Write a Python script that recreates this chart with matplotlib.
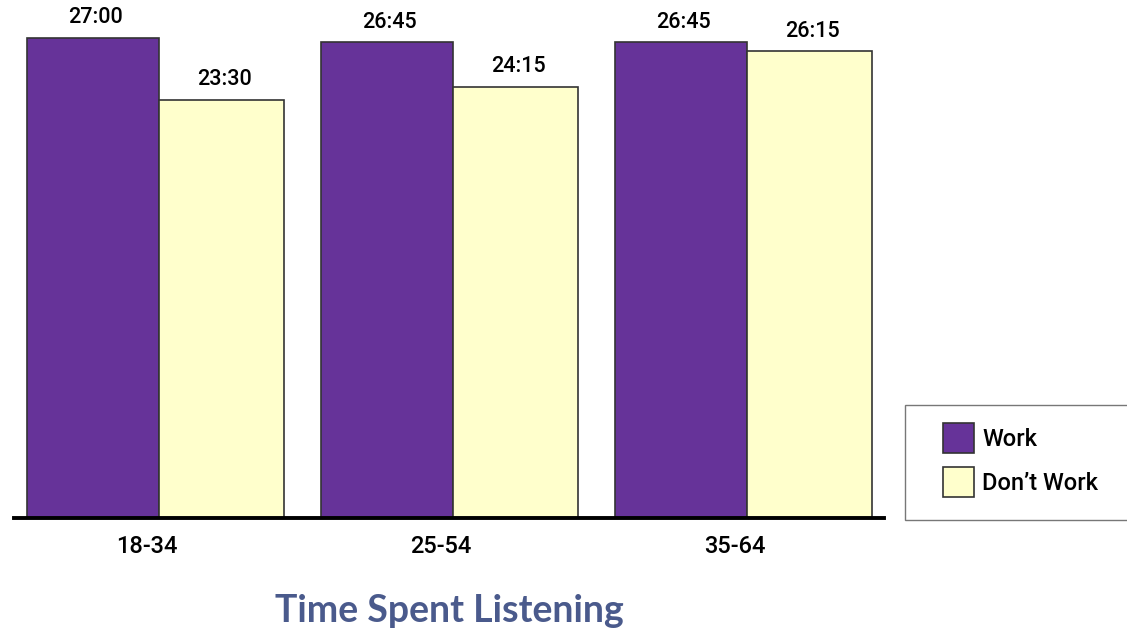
import numpy as np
import matplotlib.pyplot as plt
from matplotlib.patches import Rectangle

groups = ['18-34', '25-54', '35-64']
work_hours = [27.0, 26.75, 26.75]
nowork_hours = [23.5, 24.25, 26.25]
series_names = ['Work', 'Don\u2019t Work']


def hhmm(v):
    h = int(v)
    m = int(round((v - h) * 60))
    return '%d:%02d' % (h, m)


plt.rcParams['font.family'] = ['Roboto', 'DejaVu Sans']

purple = '#663399'
cream = '#ffffcc'

W, H = 1127, 637
fig = plt.figure(figsize=(W / 100, H / 100), dpi=100)
# axes spans px 14..884 horizontally, 15..518 vertically
ax = fig.add_axes([14 / W, 1 - 518 / H, 870 / W, 503 / H])

x = np.arange(len(groups))
wp, wy = 0.449, 0.425
bp = ax.bar(x - wp, work_hours, width=wp, align='edge', color=purple,
            edgecolor='#333333', linewidth=1.2, label=series_names[0])
by = ax.bar(x, nowork_hours, width=wy, align='edge', color=cream,
            edgecolor='#333333', linewidth=1.2, label=series_names[1])

for bars, vals in ((bp, work_hours), (by, nowork_hours)):
    for r, v in zip(bars, vals):
        ax.annotate(hhmm(v), (r.get_x() + r.get_width() / 2, v),
                    xytext=(2, 7), textcoords='offset points',
                    ha='center', va='bottom', fontsize=15.5, fontweight='medium')

ax.set_xlim(-0.493, 2.466)
ax.set_ylim(0, 503 / 17.78)
ax.set_xticks(x - 0.04)
ax.set_xticklabels(groups, fontsize=17, fontweight='medium')
ax.tick_params(axis='x', length=0, pad=12)
ax.set_yticks([])
for s in ('top', 'right', 'left'):
    ax.spines[s].set_visible(False)
ax.spines['bottom'].set_linewidth(2.8)
ax.spines['bottom'].set_color('black')

# legend box runs off the right edge of the figure
fig.patches.append(Rectangle((905 / W, 1 - 520 / H), 240 / W, 115 / H,
                             transform=fig.transFigure, facecolor='white',
                             edgecolor='#777777', linewidth=1.0))
leg = fig.legend(handles=[bp, by], loc='upper left',
                 bbox_to_anchor=(936 / W, 1 - 416 / H),
                 frameon=False, prop={'size': 17, 'weight': 'medium'},
                 handlelength=1.3, handleheight=1.55, handletextpad=0.35,
                 labelspacing=0.62, borderpad=0.3, borderaxespad=0)

fig.text(449 / W, 1 - 611 / H, 'Time Spent Listening', ha='center', va='center',
         fontsize=27, fontweight='bold', color='#4a5a8c',
         family=['Lato', 'DejaVu Sans'])

fig.savefig('out.png', dpi=100)
